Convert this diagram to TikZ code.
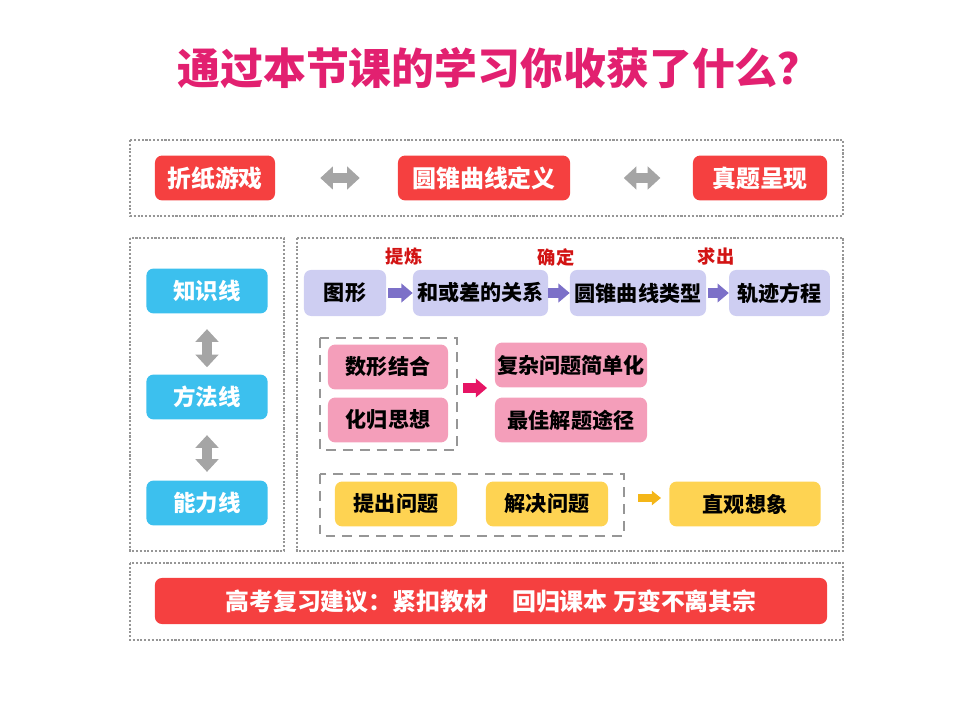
\documentclass[tikz,border=0pt]{standalone}
\usepackage{fontspec}
\newfontfamily\cjk{Noto Sans CJK SC}
\usetikzlibrary{arrows.meta}
\definecolor{titlepink}{RGB}{226,32,112}
\definecolor{boxred}{RGB}{245,64,64}
\definecolor{boxblue}{RGB}{60,192,238}
\definecolor{boxlav}{RGB}{206,206,242}
\definecolor{boxpink}{RGB}{244,158,186}
\definecolor{boxyellow}{RGB}{254,211,82}
\definecolor{arrowgray}{RGB}{165,165,165}
\definecolor{arrowpurple}{RGB}{124,112,200}
\definecolor{arrowmagenta}{RGB}{230,20,100}
\definecolor{arroworange}{RGB}{244,182,24}
\definecolor{labelred}{RGB}{210,20,20}
\definecolor{framegray}{RGB}{150,150,150}

\tikzset{
  card/.style={rounded corners=5pt, inner sep=0pt, minimum height=1.12cm},
  redcard/.style={card, fill=boxred, text=white, font=\cjk\bfseries\fontsize{17}{17}\selectfont},
  bluecard/.style={card, fill=boxblue, text=white, minimum width=3.03cm, font=\cjk\bfseries\fontsize{16}{16}\selectfont},
  lavcard/.style={card, fill=boxlav, minimum height=1.15cm, font=\cjk\bfseries\fontsize{15}{15}\selectfont},
  pinkcard/.style={card, fill=boxpink, font=\cjk\bfseries\fontsize{15}{15}\selectfont},
  yellowcard/.style={card, fill=boxyellow, font=\cjk\bfseries\fontsize{15}{15}\selectfont},
  steplabel/.style={text=labelred, font=\cjk\bfseries\fontsize{13}{13}\selectfont},
  dotframe/.style={draw=framegray, line width=1.6pt, dash pattern=on 1.5pt off 1.2pt},
  dashframe/.style={draw=framegray, line width=1.8pt, dash pattern=on 7pt off 5pt},
  twoway/.style={draw=arrowgray, line width=7pt, {Triangle[length=9pt,width=16pt]}-{Triangle[length=9pt,width=16pt]}},
  oneway/.style={line width=6.5pt, -{Triangle[length=8pt,width=13pt]}},
}

\begin{document}
\begin{tikzpicture}[x=0.025cm, y=-0.025cm]
  \useasboundingbox (0,0) rectangle (960,720);
  % title
  \node[text=titlepink, font=\cjk\bfseries\fontsize{30.5}{30.5}\selectfont] (title) at (499,68) {通过本节课的学习你收获了什么？};

  % frames
  \draw[dotframe] (130,140) rectangle (843,216);
  \draw[dotframe] (130,238) rectangle (284,551);
  \draw[dotframe] (297,238) rectangle (843,551);
  \draw[dotframe] (130,563) rectangle (843,640);
  \draw[dashframe] (320,338) rectangle (457,450);
  \draw[dashframe] (320,474) rectangle (624,536);

  % top row
  \node[redcard, minimum width=3cm] (fold) at (215,178) {折纸游戏};
  \node[redcard, minimum width=4.3cm] (define) at (484,178) {圆锥曲线定义};
  \node[redcard, minimum width=3.35cm] (exam) at (760,178) {真题呈现};
  \draw[twoway, shorten <=32pt, shorten >=27pt] (fold) -- (define);
  \draw[twoway, shorten <=38pt, shorten >=23pt] (define) -- (exam);

  % left column
  \node[bluecard] (know) at (207,291) {知识线};
  \node[bluecard] (method) at (207,397) {方法线};
  \node[bluecard] (ability) at (207,503) {能力线};
  \draw[twoway, shorten <=11pt, shorten >=5pt] (know) -- (method);
  \draw[twoway, shorten <=11pt, shorten >=6pt] (method) -- (ability);

  % chain
  \node[lavcard, minimum width=2.05cm] (shape) at (345,293) {图形};
  \node[lavcard, minimum width=3.375cm] (relation) at (480.5,293) {和或差的关系};
  \node[lavcard, minimum width=3.4cm] (kind) at (638,293) {圆锥曲线类型};
  \node[lavcard, minimum width=2.52cm] (equation) at (779.5,293) {轨迹方程};
  \draw[oneway, draw=arrowpurple, shorten <=1.5pt] (shape) -- (relation);
  \draw[oneway, draw=arrowpurple] (relation) -- (kind);
  \draw[oneway, draw=arrowpurple, shorten <=1pt] (kind) -- (equation);
  \node[steplabel] (refine) at (404,257) {提炼};
  \node[steplabel] (fix) at (556,257) {确定};
  \node[steplabel] (solve) at (716,257) {求出};

  % thinking
  \node[pinkcard, minimum width=3cm] (numshape) at (388,367) {数形结合};
  \node[pinkcard, minimum width=3cm] (reduce) at (388,420) {化归思想};
  \node[pinkcard, minimum width=3.8cm] (simple) at (571,365) {复杂问题简单化};
  \node[pinkcard, minimum width=3.8cm] (best) at (571,420) {最佳解题途径};
  \coordinate (mfrom) at (463,388);
  \coordinate (mto) at (487,388);
  \draw[oneway, draw=arrowmagenta] (mfrom) -- (mto);

  % problems
  \node[yellowcard, minimum width=3.05cm] (ask) at (396,504) {提出问题};
  \node[yellowcard, minimum width=3.05cm] (answer) at (547,504) {解决问题};
  \node[yellowcard, minimum width=3.78cm] (imagine) at (745,504) {直观想象};
  \coordinate (yfrom) at (638,498);
  \coordinate (yto) at (661,498);
  \draw[draw=arroworange, line width=5pt, -{Triangle[length=6.5pt,width=10pt]}] (yfrom) -- (yto);

  % advice
  \node[redcard, minimum width=16.8cm, minimum height=1.15cm] (advice) at (491,601) {高考复习建议：紧扣教材　回归课本 万变不离其宗};
\end{tikzpicture}
\end{document}
